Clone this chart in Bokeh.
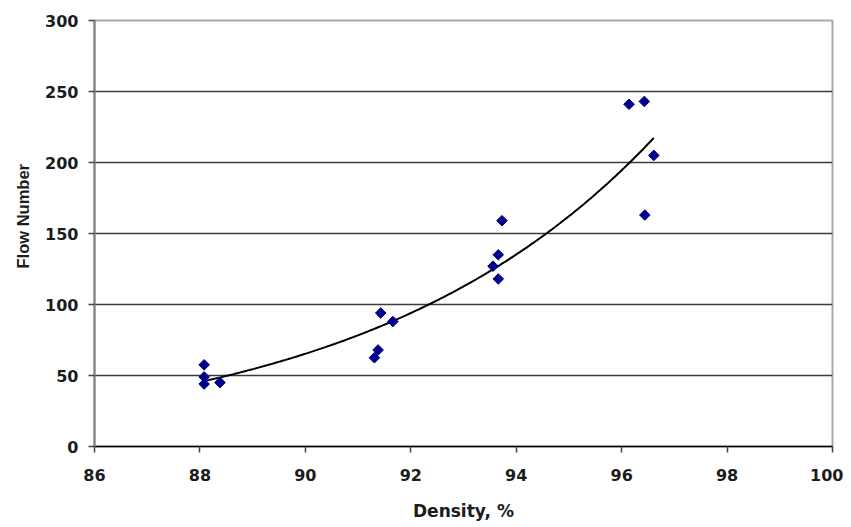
import numpy as np
from bokeh.plotting import figure
from bokeh.models import Range1d, FixedTicker, Title
from bokeh.embed import file_html
from bokeh.resources import INLINE

# Data
density = [88.08, 88.08, 88.08, 88.38, 91.31, 91.38, 91.43, 91.66,
           93.56, 93.66, 93.66, 93.73, 96.14, 96.43, 96.44, 96.61]
flow_number = [57.5, 49, 44, 45, 62.5, 68, 94, 88,
               127, 135, 118, 159, 241, 243, 163, 205]
x_ticks = [86, 88, 90, 92, 94, 96, 98, 100]
y_ticks = [0, 50, 100, 150, 200, 250, 300]

TICK_FONT = "DejaVu Sans"
TEXT_COLOR = "#1c1c1c"
W, H = 843, 523

p = figure(width=W, height=H, output_backend="svg", toolbar_location=None,
           x_range=Range1d(86, 100), y_range=Range1d(0, 300),
           min_border_left=93, min_border_right=11, min_border_top=20,
           min_border_bottom=76)

# Exponential trendline (least squares on ln y, like a spreadsheet trendline)
xd = np.array(density)
yd = np.array(flow_number)
b, ln_a = np.polyfit(xd, np.log(yd), 1)
xt = np.linspace(xd.min(), xd.max(), 200)
yt = np.exp(ln_a + b * xt)

p.line(xt, yt, line_color="black", line_width=2)
p.scatter(density, flow_number, marker="square", angle=np.pi / 4, size=7.5,
          fill_color="#00008b", line_color="#00008b")

# Axes
p.xaxis.ticker = FixedTicker(ticks=x_ticks)
p.yaxis.ticker = FixedTicker(ticks=y_ticks)
for ax in (p.xaxis[0], p.yaxis[0]):
    ax.major_label_text_font = TICK_FONT
    ax.major_label_text_font_style = "bold"
    ax.major_label_text_font_size = "16px"
    ax.major_label_text_color = TEXT_COLOR
    ax.major_tick_out = 6
    ax.major_tick_in = 0
    ax.minor_tick_out = 0
    ax.minor_tick_in = 0

p.xaxis.axis_line_color = "#000000"
p.xaxis.axis_line_width = 1.5
p.xaxis.major_tick_line_color = "#444444"
p.xaxis.major_tick_line_width = 1.5
p.xaxis.major_label_standoff = 16
p.xaxis.axis_label = "Density, %"
p.xaxis.axis_label_text_font = TICK_FONT
p.xaxis.axis_label_text_font_style = "bold"
p.xaxis.axis_label_text_font_size = "17px"
p.xaxis.axis_label_text_color = TEXT_COLOR
p.xaxis.axis_label_standoff = 17

p.yaxis.axis_line_color = "#808080"
p.yaxis.axis_line_width = 2
p.yaxis.major_tick_line_color = "#444444"
p.yaxis.major_tick_line_width = 1.5
p.yaxis.major_label_standoff = 10

# Grid
p.xgrid.grid_line_color = None
p.ygrid.grid_line_color = "#3c3c3c"
p.ygrid.grid_line_width = 1.5

p.outline_line_color = "#a8a8a8"
p.outline_line_width = 2

# Y axis title (slightly above center, as in the reference)
ytitle = Title(text="Flow Number", align="left", offset=178,
               text_font="Liberation Sans", text_font_size="16.5px",
               text_font_style="bold", text_color=TEXT_COLOR, standoff=22)
p.add_layout(ytitle, "left")

open("out.html", "w").write(file_html(p, INLINE))
